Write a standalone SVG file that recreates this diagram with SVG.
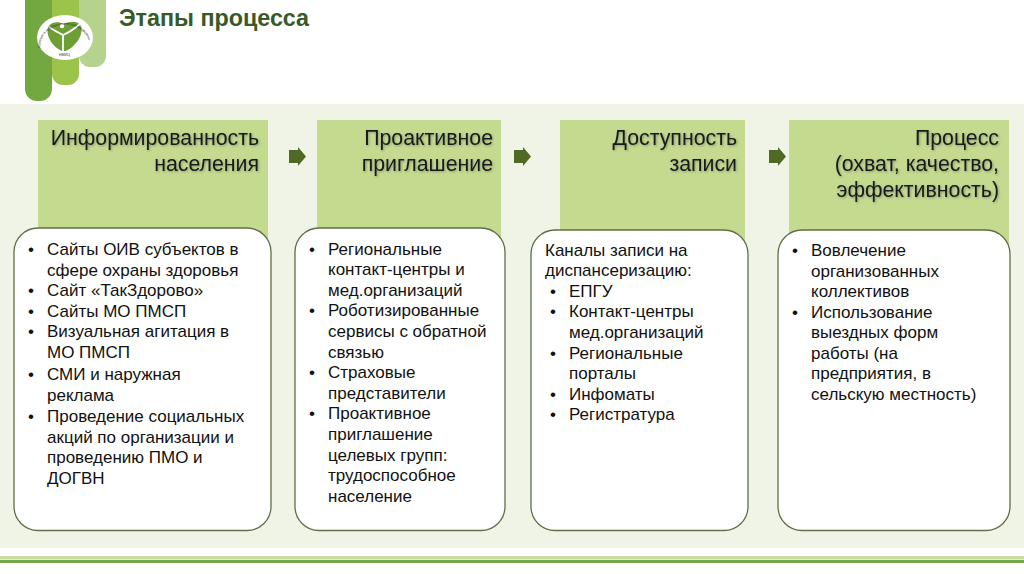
<svg xmlns="http://www.w3.org/2000/svg" width="1024" height="574" viewBox="0 0 1024 574">
<style>
text{font-family:"Liberation Sans",Arial,sans-serif}
.hd{font-size:21.3px;fill:#1a1a1a;text-anchor:end;filter:drop-shadow(1px 1px .8px #8b9a72)}
.b{font-size:17px;fill:#111}
.hdr{fill:#c3da8f}
.card{fill:#fff;stroke:#5f6f48;stroke-width:1.3}
.arr{fill:#4f6a24}
.lg{font-size:3.6px;fill:#333}
</style>
<defs><path id="ring" d="M41 50A24.500 21 0 1 1 89 50"/></defs>
<rect width="1024" height="574" fill="#fff"/>
<rect x="0" y="104" width="1024" height="444" fill="#f0f4e7"/>
<rect x="0" y="556" width="1024" height="3.5" fill="#c8dca0"/>
<rect x="0" y="560" width="1024" height="3" fill="#76a84a"/>
<g id="logo">
<path d="M79 0H106V56a11 11 0 0 1-11 11H90a11 11 0 0 1-11-11Z" fill="#b5d38c"/>
<path d="M52 0H79V74a11 11 0 0 1-11 11H63a11 11 0 0 1-11-11Z" fill="#9cc44a"/>
<path d="M25 0H52V89a12 12 0 0 1-12 12H37a12 12 0 0 1-12-12Z" fill="#72a83f"/>
<ellipse cx="65" cy="37.5" rx="28" ry="22.5" fill="#fff"/>
<path d="M62 51C53 47 47 38 47.500 30C48 23 56 20 64 24C72 20 80 21 81.500 28C82.500 38 74 47 66 51Z" fill="#6d9f35"/>
<path d="M49 27C55 31 59 33 63 35C68 33 74 29 80 24M63 35L63 51" fill="none" stroke="#fff" stroke-width="1.800"/>
<circle cx="62" cy="26" r="2.300" fill="#fff"/>
<text class="lg"><textPath href="#ring" startOffset="2">терапии и профилактической медицины</textPath></text>
<text class="lg" x="59" y="56">НМИЦ</text>
</g>
<text id="title" x="119" y="26" font-size="23.3" font-weight="700" fill="#375a28">Этапы процесса</text>
<g id="connectors">
<path class="arr" d="M289 150h9v-3l8 9.500l-8 9.500v-3h-9Z"/>
<path class="arr" d="M514 150h9v-3l8 9.500l-8 9.500v-3h-9Z"/>
<path class="arr" d="M769 150h9v-3l8 9.500l-8 9.500v-3h-9Z"/>
</g>
<g id="n1">
<rect class="hdr" x="38" y="120" width="230" height="125"/>
<rect class="card" x="14" y="228" width="257" height="302.500" rx="24"/>
<text class="hd" x="259" y="145">Информированность</text>
<text class="hd" x="259" y="171">населения</text>
<g class="b">
<text x="28" y="255">•</text><text x="47" y="255">Сайты ОИВ субъектов в</text>
<text x="47" y="276">сфере охраны здоровья</text>
<text x="28" y="296">•</text><text x="47" y="296">Сайт «ТакЗдорово»</text>
<text x="28" y="317">•</text><text x="47" y="317">Сайты МО ПМСП</text>
<text x="28" y="337">•</text><text x="47" y="337">Визуальная агитация в</text>
<text x="47" y="358">МО ПМСП</text>
<text x="28" y="380">•</text><text x="47" y="380">СМИ и наружная</text>
<text x="47" y="401">реклама</text>
<text x="28" y="422">•</text><text x="47" y="422">Проведение социальных</text>
<text x="47" y="443">акций по организации и</text>
<text x="47" y="463">проведению ПМО и</text>
<text x="47" y="484">ДОГВН</text>
</g>
</g>
<g id="n2">
<rect class="hdr" x="317" y="120" width="184" height="125"/>
<rect class="card" x="295" y="228" width="210" height="302.500" rx="24"/>
<text class="hd" x="493" y="145">Проактивное</text>
<text class="hd" x="493" y="171">приглашение</text>
<g class="b">
<text x="309" y="255">•</text><text x="328" y="255">Региональные</text>
<text x="328" y="275">контакт-центры и</text>
<text x="328" y="296">мед.организаций</text>
<text x="309" y="316">•</text><text x="328" y="316">Роботизированные</text>
<text x="328" y="337">сервисы с обратной</text>
<text x="328" y="358">связью</text>
<text x="309" y="378">•</text><text x="328" y="378">Страховые</text>
<text x="328" y="399">представители</text>
<text x="309" y="419">•</text><text x="328" y="419">Проактивное</text>
<text x="328" y="440">приглашение</text>
<text x="328" y="461">целевых групп:</text>
<text x="328" y="481">трудоспособное</text>
<text x="328" y="502">население</text>
</g>
</g>
<g id="n3">
<rect class="hdr" x="560" y="120" width="185" height="125"/>
<rect class="card" x="531" y="230" width="217" height="300.500" rx="24"/>
<text class="hd" x="737" y="145">Доступность</text>
<text class="hd" x="737" y="171">записи</text>
<g class="b">
<text x="545" y="256">Каналы записи на</text>
<text x="545" y="276">диспансеризацию:</text>
<text x="550" y="297">•</text><text x="569" y="297">ЕПГУ</text>
<text x="550" y="317">•</text><text x="569" y="317">Контакт-центры</text>
<text x="569" y="338">мед.организаций</text>
<text x="550" y="359">•</text><text x="569" y="359">Региональные</text>
<text x="569" y="379">порталы</text>
<text x="550" y="400">•</text><text x="569" y="400">Инфоматы</text>
<text x="550" y="420">•</text><text x="569" y="420">Регистратура</text>
</g>
</g>
<g id="n4">
<rect class="hdr" x="789" y="120" width="220" height="125"/>
<rect class="card" x="778" y="230" width="232" height="300.500" rx="24"/>
<text class="hd" x="999" y="145">Процесс</text>
<text class="hd" x="999" y="171">(охват, качество,</text>
<text class="hd" x="999" y="197">эффективность)</text>
<g class="b">
<text x="792" y="256">•</text><text x="811" y="256">Вовлечение</text>
<text x="811" y="277">организованных</text>
<text x="811" y="297">коллективов</text>
<text x="792" y="318">•</text><text x="811" y="318">Использование</text>
<text x="811" y="338">выездных форм</text>
<text x="811" y="359">работы (на</text>
<text x="811" y="379">предприятия, в</text>
<text x="811" y="400">сельскую местность)</text>
</g>
</g>
</svg>
